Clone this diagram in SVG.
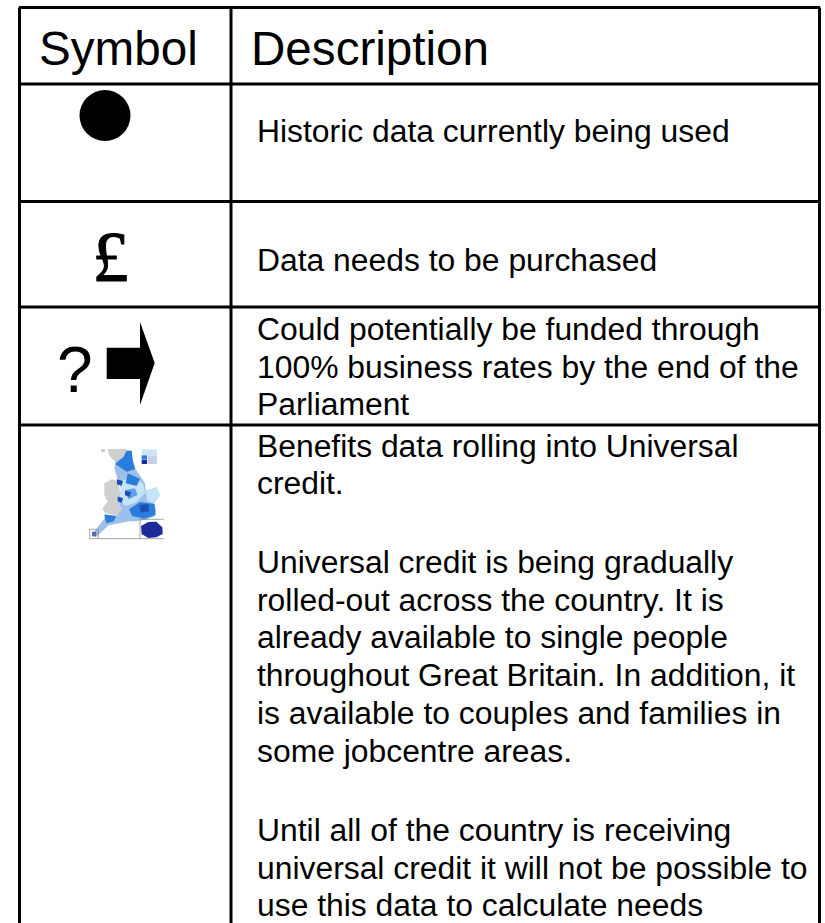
<svg xmlns="http://www.w3.org/2000/svg" width="825" height="923" viewBox="0 0 825 923">
<style>
text{font-family:"Liberation Sans",Arial,sans-serif;fill:#000}
.h{font-size:47.6px}
.b{font-size:31.85px}
.l{stroke:#000;stroke-width:3;fill:none}
</style>
<defs><filter id="soft" x="-5%" y="-5%" width="110%" height="110%"><feGaussianBlur stdDeviation="1.8"/></filter></defs>
<rect width="825" height="923" fill="#fff"/>
<g id="grid">
<path class="l" d="M19 7.500H820M19 84H820M19 201.500H820M19 307H820M19 425H820M19.500 7.500V923M231 7.500V923M819.500 7.500V923"/>
</g>
<g id="header">
<text class="h" x="39" y="65">Symbol</text>
<text class="h" x="251" y="65">Description</text>
</g>
<g id="row1">
<circle cx="105" cy="115.500" r="25.500" fill="#000"/>
<text class="b" x="257" y="142">Historic data currently being used</text>
</g>
<g id="row2">
<text x="92.500" y="281" font-size="72" stroke="#000" stroke-width="1" style="font-family:'Liberation Serif',serif">£</text>
<text class="b" x="257" y="271">Data needs to be purchased</text>
</g>
<g id="row3">
<text x="57" y="392" font-size="64">?</text>
<path d="M106.700 347.700H140V322L154.700 363L140 405V379H106.700Z" fill="#000"/>
<text class="b" x="257" y="340">Could potentially be funded through</text>
<text class="b" x="257" y="378">100% business rates by the end of the</text>
<text class="b" x="257" y="415">Parliament</text>
</g>
<g id="row4">
<g id="map" transform="translate(85 440) scale(.3333)" filter="url(#soft)">
<path fill="#cfcfcf" d="M48 27H60V36H48ZM68 27H125L130 50L115 60L98 72L82 58L72 45Z"/>
<path fill="#cfcfcf" d="M80 118L100 125L108 175L98 195L112 205L98 228L60 218L52 205L68 185L58 165L58 130Z"/>
<path fill="#9dc0ea" d="M125 32L140 32L143 60L152 88L168 112L180 130L182 152L215 142L224 165L208 190L213 210L207 230L178 240L150 244L130 244L105 250L72 255L32 292L22 282L58 236L60 222L95 228L112 205L100 195L102 170L110 150L100 125L88 85L93 62L115 52Z"/>
<path fill="#2b7ddb" d="M125 32L140 32L143 60L150 88L125 95L105 82L90 72L115 52Z"/>
<path fill="#c6e4f8" d="M108 122L150 112L175 132L180 160L152 188L120 198L104 175Z"/>
<path fill="#c6e4f8" d="M182 152L215 142L224 165L208 190L186 182Z"/>
<path fill="#2b7ddb" d="M128 100L165 116L155 138L122 130Z"/>
<path fill="#5f9fe6" d="M120 150L150 145L158 165L130 178Z"/>
<path fill="#2b7ddb" d="M132 208L165 186L208 192L212 225L178 236L142 228Z"/>
<path fill="#2b7ddb" d="M58 224L94 228L86 244L64 250Z"/>
<path fill="#1f4fb0" d="M95 118L114 123L110 137L96 133ZM120 152L138 156L134 170L120 166ZM162 195L190 192L192 214L168 218ZM98 170L114 174L110 188L98 184Z"/>
<path fill="#1a2a9a" d="M168 258L190 246L214 245L232 262L233 282L214 292L190 294L170 282Z"/>
<path fill="none" stroke="#777" stroke-width="2" d="M165 296V238H236M14 296H236M14 296V268H40V296"/>
<path fill="#5a6ab0" d="M21 275H34V289H21Z"/>
<path fill="#cfe3f6" d="M170 28H216V45H170Z"/>
<path fill="#2b7ddb" d="M170 46H186V58H170Z"/>
<path fill="#1a2a9a" d="M170 59H186V72H170Z"/>
<path fill="#9fb3d8" d="M188 46H216V72H188Z" opacity=".6"/>
</g>
<text class="b" x="257" y="457">Benefits data rolling into Universal</text>
<text class="b" x="257" y="494">credit.</text>
<text class="b" x="257" y="573">Universal credit is being gradually</text>
<text class="b" x="257" y="611">rolled-out across the country. It is</text>
<text class="b" x="257" y="648">already available to single people</text>
<text class="b" x="257" y="686">throughout Great Britain. In addition, it</text>
<text class="b" x="257" y="724">is available to couples and families in</text>
<text class="b" x="257" y="762">some jobcentre areas.</text>
<text class="b" x="257" y="841">Until all of the country is receiving</text>
<text class="b" x="257" y="879">universal credit it will not be possible to</text>
<text class="b" x="257" y="916">use this data to calculate needs</text>
</g>
</svg>
